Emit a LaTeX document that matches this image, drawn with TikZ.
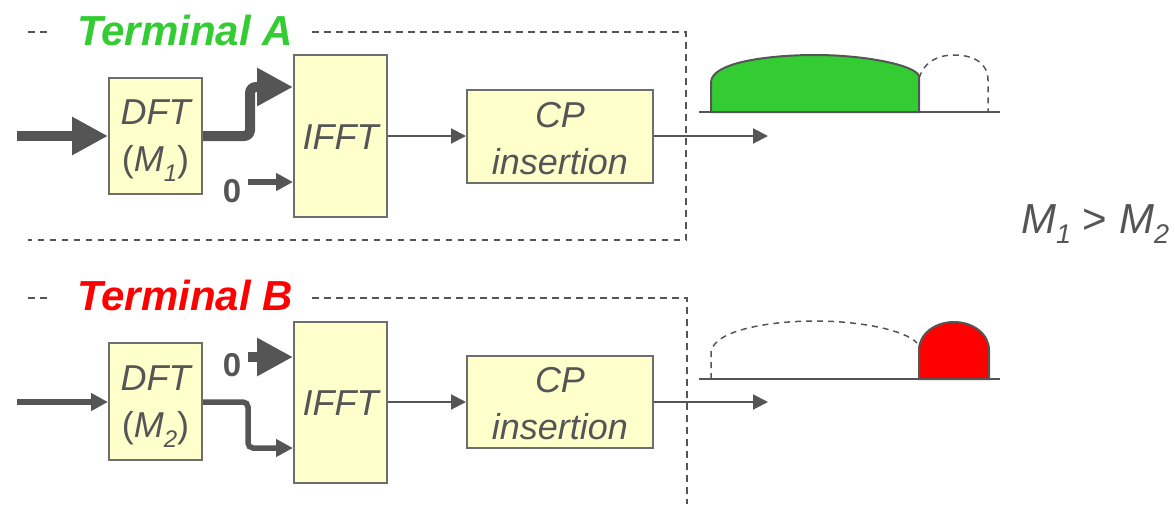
\documentclass[tikz,border=0pt]{standalone}
\usepackage{fontspec}
\setmainfont{Liberation Sans}
\usetikzlibrary{arrows.meta}
\definecolor{ln}{HTML}{555555}
\definecolor{bx}{HTML}{FFFFCC}
\definecolor{bxd}{HTML}{6E6E6E}
\definecolor{tgreen}{HTML}{33CC33}
\definecolor{tred}{HTML}{FF0000}
\newcommand{\sbs}[1]{\raisebox{-0.28em}{\fontsize{24}{24}\selectfont #1}}
\tikzset{
  blk/.style={draw=bxd, fill=bx, line width=2pt, inner sep=0pt},
  blktext/.style={inner sep=0pt, align=center, text=ln, font=\fontsize{36}{47}\selectfont\itshape},
  thinarr/.style={draw=ln, line width=2pt, -{Triangle[length=15pt,width=15pt]}},
  medarr/.style={draw=ln, line width=5.5pt, -{Triangle[length=17pt,width=17pt]}},
  fatarr/.style={draw=ln, line width=10pt, -{Triangle[length=36pt,width=36pt]}},
  frame/.style={draw=ln, line width=1.7pt, dash pattern=on 6.5pt off 5.5pt},
  title/.style={font=\fontsize{42}{42}\selectfont\bfseries\itshape, inner sep=0pt, anchor=base},
  zero/.style={font=\fontsize{33}{33}\selectfont\bfseries, text=ln, inner sep=0pt},
  wave/.style={draw=ln, line width=2pt},
  dwave/.style={draw=ln, line width=1.5pt, dash pattern=on 6pt off 5pt}
}
\begin{document}
\begin{tikzpicture}[x=1pt,y=-1pt]
\useasboundingbox (0,0) rectangle (1175,504);

% ---------- Terminal A ----------
\draw[frame] (28,32) -- (50,32);
\draw[frame] (312,32) -- (686,32) -- (686,240) -- (28,240);
\node[title, text=tgreen] (tA) at (185,45) {Terminal A};

\node[blk, minimum width=93pt, minimum height=116pt] (dftA) at (155.5,136) {};
\node[blktext] (dftAt) at ([yshift=-5pt]dftA.center) {DFT\\\upshape(\itshape M\sbs{1}\upshape)};
\node[blk, minimum width=93pt, minimum height=162pt] (ifftA) at (340.5,136) {};
\node[blktext] (ifftAt) at ([yshift=-1pt]ifftA.center) {IFFT};
\node[blk, minimum width=186pt, minimum height=93pt] (cpA) at (560,136.5) {};
\node[blktext] (cpAt) at ([yshift=-2pt]cpA.center) {CP\\insertion};

\coordinate (inA) at (17,136);
\draw[fatarr] (inA) -- (dftA.west);
\draw[fatarr, rounded corners=6pt] (dftA.east) -- ++(47,0) |- ([yshift=-33pt]ifftA.north west);
\node[zero] (zA) at (232,191) {0};
\coordinate (zAs) at (248,182);
\draw[medarr] (zAs) -- (zAs -| ifftA.west);
\draw[thinarr] (ifftA.east) -- (ifftA.east -| cpA.west);
\coordinate (outA) at (768,136);
\draw[thinarr] (cpA.east |- outA) -- (outA);

% waveform A
\draw[dwave] (919,78) .. controls (925,60) and (940,55) .. (954,55)
  .. controls (975,55) and (988,64) .. (988,80) -- (988,112);
\draw[wave, fill=tgreen] (711,112) -- (711,82) .. controls (712,62) and (770,55) .. (815,55)
  .. controls (865,55) and (915,65) .. (919,76) -- (919,112) -- cycle;
\draw[wave] (699,112) -- (1000,112);

% ---------- Terminal B ----------
\draw[frame] (28,298) -- (50,298);
\draw[frame] (312,298) -- (687,298) -- (687,504);
\node[title, text=tred] (tB) at (185,310) {Terminal B};

\node[blk, minimum width=93pt, minimum height=117pt] (dftB) at (155.5,401.5) {};
\node[blktext] (dftBt) at ([yshift=-5pt]dftB.center) {DFT\\\upshape(\itshape M\sbs{2}\upshape)};
\node[blk, minimum width=93pt, minimum height=161pt] (ifftB) at (340.5,402.5) {};
\node[blktext] (ifftBt) at ([yshift=-1pt]ifftB.center) {IFFT};
\node[blk, minimum width=186pt, minimum height=92pt] (cpB) at (560,402) {};
\node[blktext] (cpBt) at ([yshift=-2pt]cpB.center) {CP\\insertion};

\coordinate (inB) at (17,402);
\draw[medarr] (inB) -- (inB -| dftB.west);
\draw[medarr, rounded corners=5pt] (dftB.east |- inB) -- ++(45,0) |- ([yshift=-127pt]ifftB.north west);
\node[zero] (zB) at (232,365) {0};
\coordinate (zBs) at (248,357);
\draw[fatarr] (zBs) -- (zBs -| ifftB.west);
\draw[thinarr] (ifftB.east |- cpB.west) -- (cpB.west);
\coordinate (outB) at (768,402);
\draw[thinarr] (cpB.east) -- (outB);

% waveform B
\draw[dwave] (711,379) -- (711,352) .. controls (714,330) and (770,321) .. (815,321)
  .. controls (860,321) and (905,330) .. (917,343);
\draw[wave, fill=tred] (919,379) -- (919,350) .. controls (919,334) and (935,322) .. (954,322)
  .. controls (973,322) and (989,334) .. (989,350) -- (989,379) -- cycle;
\draw[wave] (699,379) -- (1000,379);

% relation
\node[font=\fontsize{42}{42}\selectfont, text=ln, inner sep=0pt, anchor=base west] (rel) at (1021,233)
  {\textit{M}\raisebox{-0.25em}{\fontsize{27}{27}\selectfont\itshape 1} \textgreater{} \textit{M}\raisebox{-0.25em}{\fontsize{27}{27}\selectfont\itshape 2}};
\end{tikzpicture}
\end{document}
